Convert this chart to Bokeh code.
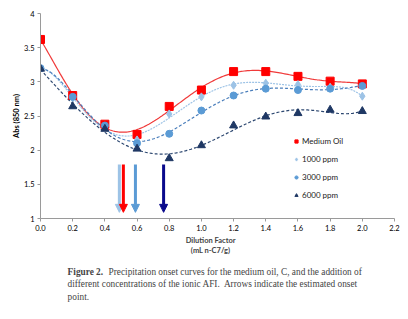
import numpy as np
from bokeh.plotting import figure
from bokeh.layouts import column
from bokeh.models import (Range1d, FixedTicker, NumeralTickFormatter, Legend, LegendItem,
                          Label, Arrow, NormalHead)
from bokeh.embed import file_html
from bokeh.resources import INLINE

dilution = [0.0, 0.2, 0.4, 0.6, 0.8, 1.0, 1.2, 1.4, 1.6, 1.8, 2.0]
medium_oil = [3.62, 2.80, 2.38, 2.23, 2.64, 2.88, 3.15, 3.15, 3.08, 3.01, 2.97]
ppm_1000 = [3.20, 2.76, 2.35, 2.15, 2.53, 2.78, 2.95, 2.98, 2.96, 2.92, 2.79]
ppm_3000 = [3.20, 2.78, 2.36, 2.10, 2.24, 2.58, 2.80, 2.90, 2.88, 2.90, 2.94]
ppm_6000 = [3.19, 2.64, 2.31, 2.02, 1.88, 2.07, 2.36, 2.49, 2.54, 2.59, 2.57]
series_names = ["Medium Oil", "1000 ppm", "3000 ppm", "6000 ppm"]
onset_points = [0.515, 0.49, 0.59, 0.765]   # Medium Oil, 1000, 3000, 6000 ppm
x_ticks = [0.0, 0.2, 0.4, 0.6, 0.8, 1.0, 1.2, 1.4, 1.6, 1.8, 2.0, 2.2]
y_ticks = [1, 1.5, 2, 2.5, 3, 3.5, 4]
y_tick_labels = ["1", "1.5", "2", "2.5", "3", "3.5", "4"]
x_title = ["Dilution Factor", "(mL n-C7/g)"]
y_title = "Abs (850 nm)"
caption_bold = "Figure 2."
caption_lines = ["Precipitation onset curves for the medium oil, C, and the addition of",
                 "different concentrations of the ionic AFI.\u00a0 Arrows indicate the estimated onset",
                 "point."]

FONT = "Lato"
SERIF = "Liberation Serif"

p = figure(width=403, height=236, output_backend="svg", toolbar_location=None,
           x_range=Range1d(0, 2.2), y_range=Range1d(1, 4), margin=(0, 0, 0, 5),
           min_border_left=35, min_border_right=14, min_border_top=13, min_border_bottom=18)
p.outline_line_color = None
p.grid.visible = False

for ax in (p.xaxis[0], p.yaxis[0]):
    ax.axis_line_color = "#9a9a9a"
    ax.major_tick_line_color = "#9a9a9a"
    ax.minor_tick_line_color = None
    ax.major_tick_in = 0
    ax.major_tick_out = 3
    ax.major_label_text_font = FONT
    ax.major_label_text_font_size = "7.5px"
    ax.major_label_text_color = "black"
    ax.major_label_standoff = 3
p.xaxis.ticker = FixedTicker(ticks=x_ticks)
p.xaxis.formatter = NumeralTickFormatter(format="0.0")
p.yaxis.ticker = FixedTicker(ticks=y_ticks)
p.yaxis.major_label_overrides = {t: l for t, l in zip(y_ticks, y_tick_labels)}
p.yaxis.axis_label = y_title
p.yaxis.axis_label_text_font = FONT
p.yaxis.axis_label_text_font_size = "7.5px"
p.yaxis.axis_label_text_font_style = "bold"
p.yaxis.axis_label_text_color = "black"
p.yaxis.axis_label_standoff = 0

colors = ["#ff0000", "#9dc3e6", "#5b9bd5", "#1f3864"]
line_colors = ["#f03a3a", "#9dc3e6", "#4a7ebb", "#2c4770"]
dashes = ["solid", "2 1", "3 2", "3 2"]
data = [medium_oil, ppm_1000, ppm_3000, ppm_6000]
xs = np.array(dilution)
xfine = np.linspace(0, 2.0, 200)

for ys, lc, d in zip(data, line_colors, dashes):
    coef = np.polyfit(xs, np.array(ys), 6)
    p.line(xfine, np.polyval(coef, xfine), line_color=lc, line_width=1.2, line_dash=d)

marker_rs = [
    p.scatter(dilution, medium_oil, marker="square", size=8, color=colors[0]),
    p.scatter(dilution, ppm_1000, marker="diamond", size=8, color=colors[1]),
    p.scatter(dilution, ppm_3000, marker="circle", size=7, color=colors[2]),
    p.scatter(dilution, ppm_6000, marker="triangle", size=8, color=colors[3]),
]

arrow_colors = ["#ff0000", "#9dc3e6", "#5b9bd5", "#0a0a8c"]
for i in [1, 0, 2, 3]:
    x = onset_points[i]
    p.add_layout(Arrow(x_start=x, y_start=1.79, x_end=x, y_end=1.09,
                       line_color=arrow_colors[i], line_width=3,
                       end=NormalHead(size=8, fill_color=arrow_colors[i],
                                      line_color=arrow_colors[i], line_width=1)))

legend = Legend(items=[LegendItem(label=n, renderers=[r]) for n, r in zip(series_names, marker_rs)],
                location=(252, 18), border_line_color=None, background_fill_alpha=0,
                glyph_width=8, glyph_height=8, label_height=8, label_standoff=2,
                spacing=8, padding=0, margin=0,
                label_text_font=FONT, label_text_font_size="8px", label_text_color="#222222")
p.add_layout(legend)

# lower panel: x-axis title and figure caption (coordinates in page pixels)
c = figure(width=408, height=80, output_backend="svg", toolbar_location=None,
           x_range=Range1d(0, 408), y_range=Range1d(316, 236),
           x_axis_type=None, y_axis_type=None,
           min_border_left=0, min_border_right=0, min_border_top=0, min_border_bottom=0)
c.outline_line_color = None
c.grid.visible = False

c.add_layout(Label(x=199, y=240, text=x_title[0], text_font=FONT, text_font_size="7.5px",
                   text_font_style="bold", text_align="center", text_baseline="middle"))
c.add_layout(Label(x=199, y=250, text=x_title[1], text_font=FONT, text_font_size="7.5px",
                   text_font_style="bold", text_align="center", text_baseline="middle"))

CAP = "9.3px"
c.add_layout(Label(x=36.5, y=271, text=caption_bold, text_font=SERIF, text_font_size=CAP,
                   text_font_style="bold", text_align="left", text_baseline="middle"))
c.add_layout(Label(x=83, y=271, text=caption_lines[0], text_font=SERIF, text_font_size=CAP,
                   text_align="left", text_baseline="middle"))
c.add_layout(Label(x=36.5, y=283.5, text=caption_lines[1], text_font=SERIF, text_font_size=CAP,
                   text_align="left", text_baseline="middle"))
c.add_layout(Label(x=36.5, y=296, text=caption_lines[2], text_font=SERIF, text_font_size=CAP,
                   text_align="left", text_baseline="middle"))

layout = column(p, c, spacing=0)
open("out.html", "w").write(file_html(layout, INLINE))
